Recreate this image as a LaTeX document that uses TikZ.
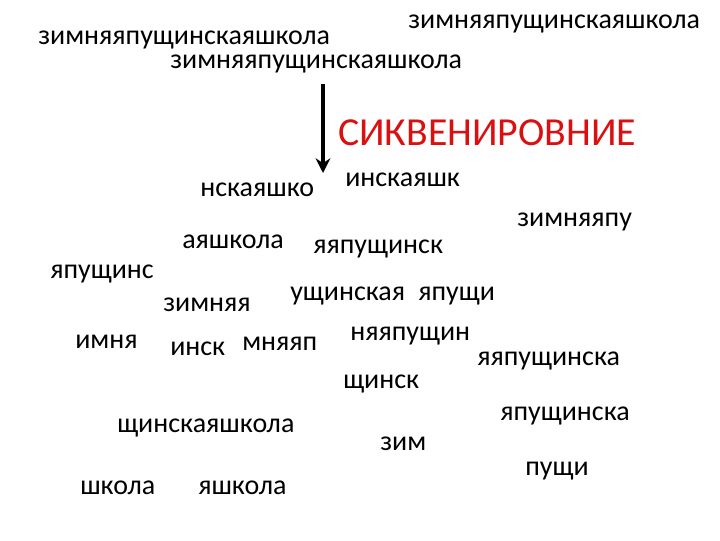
\documentclass[tikz,border=0pt]{standalone}
\usepackage{fontspec}
\setmainfont{Carlito}
\usetikzlibrary{arrows.meta}
\definecolor{titlered}{RGB}{218,16,16}
\tikzset{
  frag/.style={anchor=base west, inner sep=0pt, font=\fontsize{21}{24}\selectfont},
  title/.style={anchor=base west, inner sep=0pt, text=titlered, font=\fontsize{29.8}{32}\selectfont},
}
\begin{document}
\begin{tikzpicture}[x=0.75pt,y=0.75pt,yscale=-1,xscale=1]
\useasboundingbox (0,0) rectangle (720,540);

% full words at the top
\node[frag] (full1) at (38,44) {зимняяпущинскаяшкола};
\node[frag] (full2) at (408,28) {зимняяпущинскаяшкола};
\node[frag] (full3) at (170,68) {зимняяпущинскаяшкола};

% arrow and title
\coordinate (arrtop) at (323,84);
\coordinate (arrbot) at (323,173);
\draw[line width=2.8pt, -{Stealth[length=11pt,width=11pt]}] (arrtop) -- (arrbot);
\node[title] (seq) at (338,145) {СИКВЕНИРОВНИЕ};

% fragments
\node[frag] (f1) at (200,196) {нскаяшко};
\node[frag] (f2) at (345,186) {инскаяшк};
\node[frag] (f3) at (517,226) {зимняяпу};
\node[frag] (f4) at (182,248) {аяшкола};
\node[frag] (f5) at (313,253) {яяпущинск};
\node[frag] (f6) at (50,278) {япущинс};
\node[frag] (f7) at (290,300) {ущинская};
\node[frag] (f8) at (418,300) {япущи};
\node[frag] (f9) at (163,311) {зимняя};
\node[frag] (f10) at (75,348) {имня};
\node[frag] (f11) at (170,355) {инск};
\node[frag] (f12) at (242,350) {мняяп};
\node[frag] (f13) at (350,340) {няяпущин};
\node[frag] (f14) at (477,365) {яяпущинска};
\node[frag] (f15) at (343,388) {щинск};
\node[frag] (f16) at (500,420) {япущинска};
\node[frag] (f17) at (117,432) {щинскаяшкола};
\node[frag] (f18) at (380,450) {зим};
\node[frag] (f19) at (525,475) {пущи};
\node[frag] (f20) at (80,494) {школа};
\node[frag] (f21) at (198,494) {яшкола};

\end{tikzpicture}
\end{document}
